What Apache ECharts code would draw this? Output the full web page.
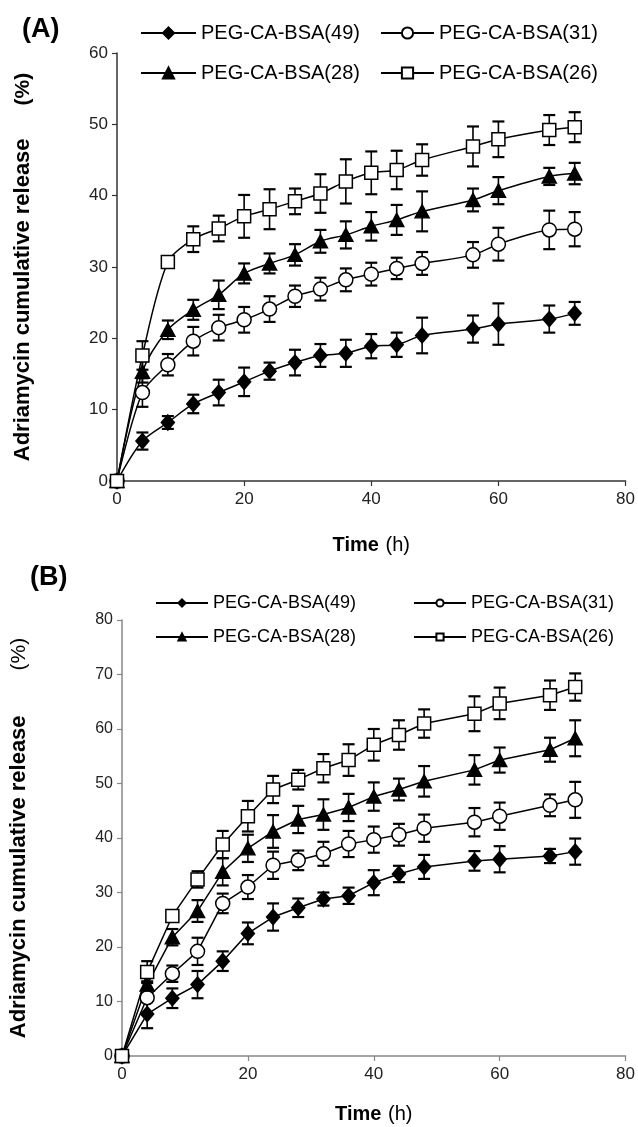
<!DOCTYPE html>
<html>
<head>
<meta charset="utf-8">
<title>Adriamycin cumulative release</title>
<script src="https://cdn.jsdelivr.net/npm/echarts@6.0.0/dist/echarts.min.js"></script>
<style>
  html, body { margin: 0; padding: 0; background: #fff; }
  #chart { width: 638px; height: 1127px; }
</style>
</head>
<body>
<div id="chart"></div>
<script>
  // sampling times (h), same for both panels
  const hours = [0, 4, 8, 12, 16, 20, 24, 28, 32, 36, 40, 44, 48, 56, 60, 68, 72];
  const names = ['PEG-CA-BSA(49)', 'PEG-CA-BSA(31)', 'PEG-CA-BSA(28)', 'PEG-CA-BSA(26)'];

  // panel (A)
  const a49 = [0, 5.6, 8.2, 10.8, 12.4, 13.9, 15.4, 16.6, 17.6, 17.9, 18.9, 19.1, 20.4, 21.3, 22.0, 22.7, 23.5];
  const a49Err = [0, 1.2, 0.9, 1.3, 1.8, 2.0, 1.2, 1.8, 1.6, 1.9, 1.7, 1.7, 2.5, 1.9, 2.9, 1.9, 1.6];
  const a31 = [0, 12.4, 16.3, 19.6, 21.5, 22.6, 24.1, 25.9, 26.9, 28.2, 29.0, 29.8, 30.5, 31.7, 33.2, 35.2, 35.3];
  const a31Err = [0, 2.0, 1.5, 2.0, 1.8, 1.8, 1.8, 1.5, 1.6, 1.6, 1.6, 1.5, 1.6, 1.8, 2.3, 2.7, 2.4];
  const a28 = [0, 15.3, 21.2, 24.0, 26.1, 29.1, 30.5, 31.7, 33.6, 34.5, 35.7, 36.6, 37.8, 39.4, 40.7, 42.7, 43.1];
  const a28Err = [0, 1.5, 1.3, 1.4, 2.0, 1.4, 1.4, 1.5, 1.6, 1.9, 2.0, 2.1, 2.8, 1.6, 1.9, 1.2, 1.5];
  const a26 = [0, 17.6, 30.7, 33.9, 35.4, 37.1, 38.1, 39.2, 40.3, 42.0, 43.2, 43.6, 45.0, 46.9, 47.9, 49.2, 49.6];
  const a26Err = [0, 2.0, 0.6, 1.8, 1.8, 3.0, 2.8, 1.8, 2.7, 3.1, 3.0, 2.7, 2.2, 2.8, 2.5, 2.1, 2.1];

  // panel (B)
  const b49 = [0, 7.7, 10.6, 13.1, 17.4, 22.5, 25.5, 27.2, 28.8, 29.4, 31.8, 33.4, 34.7, 35.8, 36.1, 36.7, 37.5];
  const b49Err = [0, 2.6, 1.8, 2.5, 1.8, 2.0, 2.5, 1.7, 1.2, 1.5, 2.3, 1.5, 2.2, 1.8, 2.4, 1.3, 2.4];
  const b31 = [0, 10.7, 15.1, 19.2, 28.0, 31.0, 35.0, 35.9, 37.1, 38.9, 39.7, 40.6, 41.8, 42.9, 44.0, 46.0, 47.0];
  const b31Err = [0, 3.0, 1.5, 2.5, 1.8, 2.2, 2.5, 1.8, 2.2, 2.4, 2.4, 2.0, 2.5, 2.6, 2.5, 2.0, 3.3];
  const b28 = [0, 13.1, 21.8, 26.6, 33.8, 38.1, 41.2, 43.4, 44.3, 45.6, 47.6, 48.9, 50.4, 52.5, 54.3, 56.2, 58.3];
  const b28Err = [0, 1.5, 1.5, 2.0, 2.5, 2.5, 3.0, 2.5, 2.8, 2.5, 2.6, 2.0, 2.8, 2.7, 2.3, 2.2, 3.3];
  const b26 = [0, 15.4, 25.7, 32.4, 38.8, 44.0, 48.9, 50.7, 52.8, 54.3, 57.1, 58.9, 61.0, 62.8, 64.7, 66.2, 67.7];
  const b26Err = [0, 2.0, 1.0, 1.5, 2.5, 2.8, 2.5, 1.8, 2.6, 2.9, 2.9, 2.7, 2.6, 3.2, 2.9, 2.7, 2.5];

  const markers = [
    { symbol: 'diamond', size: [13, 15], fill: '#000' },
    { symbol: 'circle', size: 14, fill: '#fff' },
    { symbol: 'triangle', size: [14, 13], fill: '#000' },
    { symbol: 'rect', size: 13, fill: '#fff' }
  ];

  function lineSeries(panel, k, values) {
    return {
      name: names[k],
      type: 'line',
      xAxisIndex: panel,
      yAxisIndex: panel,
      data: hours.map((t, i) => [t, values[i]]),
      symbol: markers[k].symbol,
      symbolSize: markers[k].size,
      showAllSymbol: true,
      smooth: panel === 0 ? 0.3 : false,
      lineStyle: { color: '#000', width: 1.5 },
      itemStyle: { color: markers[k].fill, borderColor: '#000', borderWidth: 1.5 },
      z: 3
    };
  }

  // error bars: vertical line with caps, drawn under the markers
  function errorSeries(panel, values, errs) {
    return {
      type: 'custom',
      xAxisIndex: panel,
      yAxisIndex: panel,
      silent: true,
      z: 2,
      encode: { x: 0, y: [1, 2] },
      data: hours.map((t, i) => [t, values[i] - errs[i], values[i] + errs[i]]),
      renderItem: function (params, api) {
        const lo = api.value(1), hi = api.value(2);
        if (hi === lo) return;
        const top = api.coord([api.value(0), hi]);
        const bot = api.coord([api.value(0), lo]);
        const w = 6;
        const st = { stroke: '#000', lineWidth: 1.6, fill: null };
        const cap = { stroke: '#000', lineWidth: 2.2, fill: null };
        return {
          type: 'group',
          children: [
            { type: 'line', shape: { x1: top[0], y1: top[1], x2: bot[0], y2: bot[1] }, style: st },
            { type: 'line', shape: { x1: top[0] - w, y1: top[1], x2: top[0] + w, y2: top[1] }, style: cap },
            { type: 'line', shape: { x1: bot[0] - w, y1: bot[1], x2: bot[0] + w, y2: bot[1] }, style: cap }
          ]
        };
      }
    };
  }

  function xAxis(panel, color, nameGap) {
    return {
      type: 'value', gridIndex: panel, min: 0, max: 80, interval: 20,
      name: '{b|Time}  {n|(h)}',
      nameLocation: 'middle',
      nameGap: nameGap,
      nameTextStyle: {
        rich: {
          b: { fontSize: 20, fontWeight: 'bold', color: '#000', fontFamily: 'Liberation Sans' },
          n: { fontSize: 20, color: '#000', fontFamily: 'Liberation Sans' }
        }
      },
      splitLine: { show: false },
      axisLine: { lineStyle: { color: color, width: 1.5 } },
      axisTick: { inside: false, length: 5, lineStyle: { color: color, width: 1.2 } },
      axisLabel: { fontSize: 17, color: '#222', margin: 10, fontFamily: 'Liberation Sans' }
    };
  }

  function yAxis(panel, max, color, nameGap, pctGap, pctWeight, labelSize) {
    return {
      type: 'value', gridIndex: panel, min: 0, max: max, interval: 10,
      name: '{b|Adriamycin cumulative release}{p|(%)}',
      nameLocation: 'middle',
      nameRotate: 90,
      nameGap: nameGap,
      nameTextStyle: {
        rich: {
          b: { fontSize: 22, fontWeight: 'bold', color: '#000', fontFamily: 'Liberation Sans' },
          p: { fontSize: 21, fontWeight: pctWeight, color: '#000', fontFamily: 'Liberation Sans', padding: [0, 0, 0, pctGap] }
        }
      },
      splitLine: { show: false },
      axisLine: { show: true, lineStyle: { color: color, width: 1.5 } },
      axisTick: { show: true, inside: false, length: 5, lineStyle: { color: color, width: 1.2 } },
      axisLabel: { fontSize: labelSize, color: '#222', margin: 9, fontFamily: 'Liberation Sans' }
    };
  }

  function legend(left, top, items, iw, ih, fs, gap) {
    return {
      left: left, top: top, orient: 'vertical',
      data: items,
      itemWidth: iw, itemHeight: ih, itemGap: gap,
      selectedMode: false,
      textStyle: { fontSize: fs, color: '#000', fontFamily: 'Liberation Sans', padding: [0, 0, 0, 0] }
    };
  }

  const option = {
    animation: false,
    backgroundColor: '#fff',
    graphic: [
      { type: 'text', left: 22, top: 16, style: { text: '(A)', fontSize: 27, fontWeight: 'bold', fill: '#000', fontFamily: 'Liberation Sans' } },
      { type: 'text', left: 30, top: 564, style: { text: '(B)', fontSize: 27, fontWeight: 'bold', fill: '#000', fontFamily: 'Liberation Sans' } }
    ],
    legend: [
      legend(135, 18, [names[0], names[2]], 55, 14, 20, 20),
      legend(375, 18, [names[1], names[3]], 53, 14, 20, 20),
      legend(150, 589, [names[0], names[2]], 52, 9, 18, 16),
      legend(408, 589, [names[1], names[3]], 52, 9, 18, 16)
    ],
    grid: [
      { left: 117, right: 11, top: 53, bottom: 646 },
      { left: 122, right: 9, top: 620, bottom: 71 }
    ],
    xAxis: [xAxis(0, '#333', 54), xAxis(1, '#888', 48)],
    yAxis: [yAxis(0, 60, '#333', 83, 33, 'bold', 17), yAxis(1, 80, '#888', 92, 45, 'normal', 16)],
    series: [
      errorSeries(0, a49, a49Err), errorSeries(0, a31, a31Err),
      errorSeries(0, a28, a28Err), errorSeries(0, a26, a26Err),
      lineSeries(0, 0, a49), lineSeries(0, 1, a31), lineSeries(0, 2, a28), lineSeries(0, 3, a26),
      errorSeries(1, b49, b49Err), errorSeries(1, b31, b31Err),
      errorSeries(1, b28, b28Err), errorSeries(1, b26, b26Err),
      lineSeries(1, 0, b49), lineSeries(1, 1, b31), lineSeries(1, 2, b28), lineSeries(1, 3, b26)
    ]
  };

  const chart = echarts.init(document.getElementById('chart'), null, { renderer: 'canvas' });
  chart.setOption(option);
</script>
</body>
</html>
